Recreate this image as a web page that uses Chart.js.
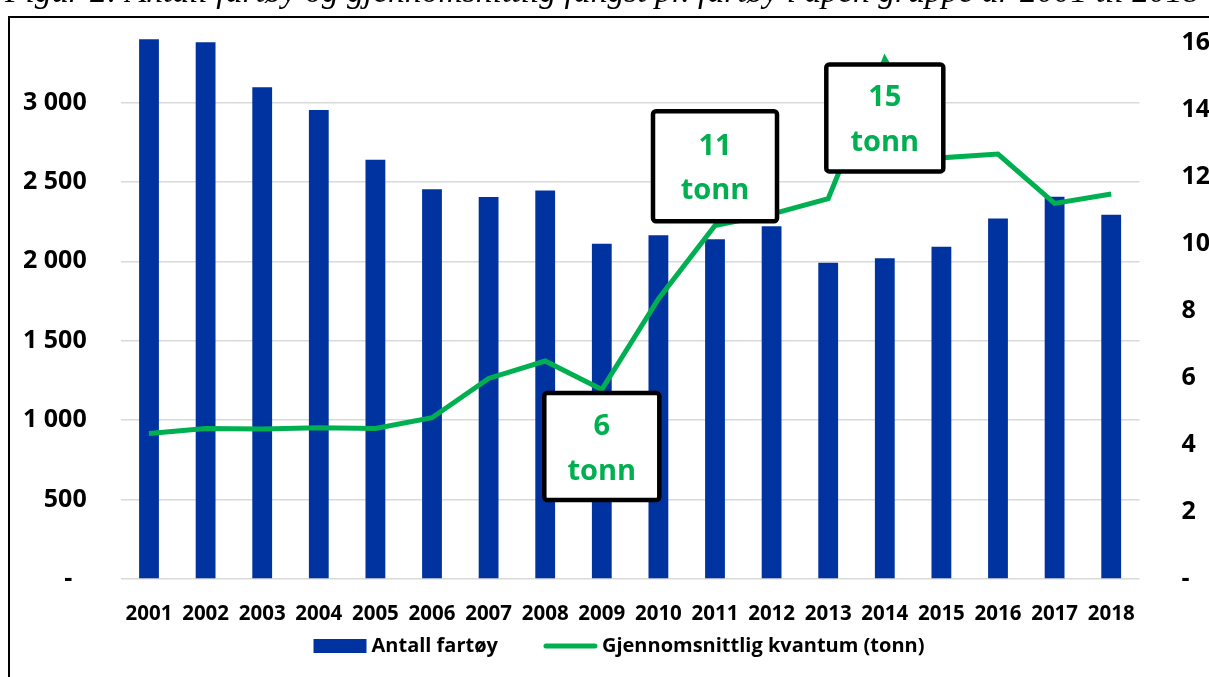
<!DOCTYPE html>
<html>
<head>
<meta charset="utf-8">
<title>Antall fartøy og gjennomsnittlig kvantum</title>
<script src="https://cdn.jsdelivr.net/npm/chart.js@4.4.0/dist/chart.umd.min.js"></script>
<style>
    html, body { margin: 0; padding: 0; background: #fff; overflow: hidden; }
    #wrap { position: relative; width: 1209px; height: 677px; overflow: hidden; }
    #fig-title {
        position: absolute; left: 5px; top: -20px; white-space: nowrap;
        font-family: "Liberation Serif", "Times New Roman", serif; font-style: italic;
        font-size: 31px; line-height: 31px; color: #000;
    }
    #frame {
        position: absolute; left: 8px; top: 16px; width: 1400px; height: 900px;
        border-top: 2px solid #000; border-left: 2px solid #000; pointer-events: none;
    }
    #chart { position: absolute; left: 0; top: 0; }
</style>
</head>
<body>
<div id="wrap">
    <canvas id="chart" width="1209" height="677"></canvas>
    <div id="fig-title">Figur 2: Antall fartøy og gjennomsnittlig fangst pr. fartøy i åpen gruppe år 2001 til 2018</div>
    <div id="frame"></div>
</div>
<script>
// Data lest av figuren
const years = ['2001', '2002', '2003', '2004', '2005', '2006', '2007', '2008', '2009',
    '2010', '2011', '2012', '2013', '2014', '2015', '2016', '2017', '2018'];
const antallFartoy = [3398, 3379, 3096, 2953, 2639, 2453, 2404, 2446, 2111,
    2164, 2138, 2220, 1991, 2019, 2092, 2270, 2406, 2293];
const snittKvantum = [4.34, 4.49, 4.47, 4.51, 4.49, 4.81, 5.98, 6.50, 5.65,
    8.35, 10.54, 10.88, 11.34, 15.5, 12.56, 12.67, 11.2, 11.48];

const leftTicks = [0, 500, 1000, 1500, 2000, 2500, 3000];
const rightTicks = [0, 2, 4, 6, 8, 10, 12, 14, 16];

// Tekstbokser (år, tekst, senter på høyre akse)
const noteYears = ['2009', '2011', '2014'];
const noteText = ['6', '11', '15'];
const notePos = [3.95, 12.31, 13.75];

const BLUE = '#0033A0';
const GREEN = '#00B050';
const FONT = '"Open Sans", "DejaVu Sans", sans-serif';

// Tittel: tilpass bredden slik originalen (avkuttet øverst)
(function fitTitle() {
    const el = document.getElementById('fig-title');
    const w = el.getBoundingClientRect().width;
    const size = 31 * 1195 / w;
    el.style.fontSize = size + 'px';
    el.style.lineHeight = size + 'px';
    el.style.top = (2 - size * 0.838) + 'px';
})();

function fmtThousands(v) {
    if (v === 0) return '-\u2007';
    return String(v).replace(/\B(?=(\d{3})+(?!\d))/g, ' ');
}

function fmtRight(v) {
    return v === 0 ? '-' : String(v);
}

// ingen ekstra luft over/under y-aksene
function fixY(width) {
    return function (s) {
        s.width = width;
        s.paddingTop = 0;
        s.paddingBottom = 0;
    };
}

// Plugin: tekstbokser med "x tonn"
const notesPlugin = {
    id: 'notes',
    afterDatasetsDraw(chart) {
        const { ctx } = chart;
        const xs = chart.scales.x;
        const ys = chart.scales.y1;
        const widths = [115, 124, 117];
        const heights = [107, 110, 107];
        ctx.save();
        noteYears.forEach((yr, i) => {
            const cx = xs.getPixelForValue(years.indexOf(yr));
            const cy = ys.getPixelForValue(notePos[i]);
            const w = widths[i], h = heights[i];
            ctx.beginPath();
            if (ctx.roundRect) ctx.roundRect(cx - w / 2, cy - h / 2, w, h, 3);
            else ctx.rect(cx - w / 2, cy - h / 2, w, h);
            ctx.fillStyle = '#fff';
            ctx.fill();
            ctx.lineWidth = 4.5;
            ctx.strokeStyle = '#000';
            ctx.stroke();

            ctx.fillStyle = GREEN;
            ctx.font = 'bold 29px ' + FONT;
            ctx.textAlign = 'center';
            ctx.textBaseline = 'alphabetic';
            ctx.fillText(noteText[i], cx, cy - 11.5);
            ctx.fillText('tonn', cx, cy + 33);
        });
        ctx.restore();
    }
};

// Plugin: forklaring nederst
const legendPlugin = {
    id: 'flatLegend',
    afterDraw(chart) {
        const { ctx } = chart;
        const items = [chart.data.datasets[0], chart.data.datasets[1]];
        const swatchW = 53, gap = 5, itemGap = 46, cy = 646, centerX = 619;
        ctx.save();
        ctx.font = 'bold 20px ' + FONT;
        const textW = items.map(d => ctx.measureText(d.label).width);
        const total = items.length * (swatchW + gap) + textW.reduce((a, b) => a + b, 0) + itemGap * (items.length - 1);
        let x = centerX - total / 2;
        items.forEach((d, i) => {
            if (d.type === 'line') {
                ctx.beginPath();
                ctx.lineCap = 'round';
                ctx.lineWidth = 5;
                ctx.strokeStyle = d.borderColor;
                ctx.moveTo(x + 2, cy);
                ctx.lineTo(x + swatchW - 2, cy);
                ctx.stroke();
            } else {
                ctx.fillStyle = d.backgroundColor;
                ctx.fillRect(x, cy - 7, swatchW, 14);
            }
            ctx.fillStyle = '#000';
            ctx.textAlign = 'left';
            ctx.textBaseline = 'middle';
            ctx.fillText(d.label, x + swatchW + gap, cy);
            x += swatchW + gap + textW[i] + itemGap;
        });
        ctx.restore();
    }
};

const ctx = document.getElementById('chart').getContext('2d');
new Chart(ctx, {
    data: {
        labels: years,
        datasets: [{
            type: 'bar',
            label: 'Antall fartøy',
            data: antallFartoy,
            backgroundColor: BLUE,
            borderWidth: 0,
            barPercentage: 0.35,
            categoryPercentage: 1,
            yAxisID: 'y',
            order: 2
        }, {
            type: 'line',
            label: 'Gjennomsnittlig kvantum (tonn)',
            data: snittKvantum,
            borderColor: GREEN,
            backgroundColor: GREEN,
            borderWidth: 5,
            pointRadius: 0,
            tension: 0,
            yAxisID: 'y1',
            order: 1
        }]
    },
    options: {
        responsive: false,
        animation: false,
        layout: { padding: { top: 23, left: 0, right: 0, bottom: 0 } },
        plugins: {
            legend: { display: false },
            tooltip: { enabled: false }
        },
        scales: {
            x: {
                grid: { display: false, drawTicks: false },
                border: { display: false },
                ticks: {
                    color: '#000',
                    font: { family: FONT, weight: 'bold', size: 20.5 },
                    padding: 23,
                    maxRotation: 0,
                    autoSkip: false
                },
                afterFit(s) {
                    s.height = 98;
                    s.paddingLeft = 0;
                    s.paddingRight = 0;
                }
            },
            y: {
                position: 'left',
                min: 0,
                max: 3500,
                afterBuildTicks(s) { s.ticks = leftTicks.map(v => ({ value: v })); },
                grid: { color: '#D9D9D9', lineWidth: 1.5, drawTicks: false },
                border: { display: false },
                ticks: {
                    color: '#000',
                    font: { family: FONT, weight: 'bold', size: 25 },
                    padding: 34,
                    callback: fmtThousands
                },
                afterFit: fixY(120.7)
            },
            y1: {
                position: 'right',
                min: 0,
                max: 16.58,
                afterBuildTicks(s) { s.ticks = rightTicks.map(v => ({ value: v })); },
                grid: { display: false, drawTicks: false },
                border: { display: false },
                ticks: {
                    color: '#000',
                    font: { family: FONT, weight: 'bold', size: 25 },
                    padding: 42,
                    callback: fmtRight
                },
                afterFit: fixY(69.5)
            }
        }
    },
    plugins: [notesPlugin, legendPlugin]
});
</script>
</body>
</html>
